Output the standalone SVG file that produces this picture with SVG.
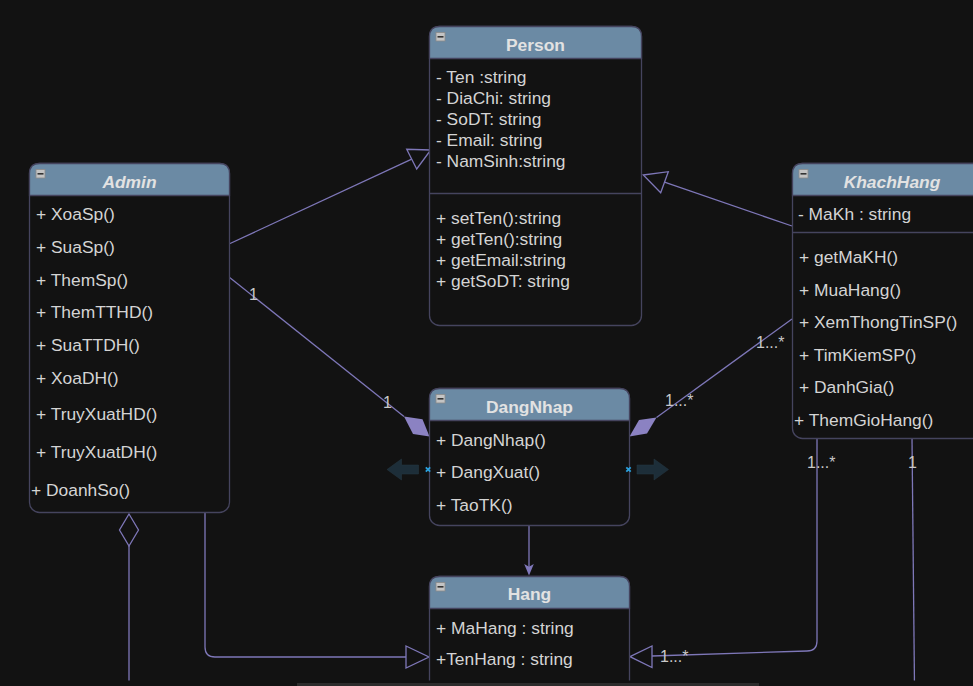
<svg xmlns="http://www.w3.org/2000/svg" width="973" height="686" viewBox="0 0 973 686">
<style>
text{font-family:"Liberation Sans",Arial,sans-serif;font-size:17.4px;fill:#d4d4d4}
.title{font-weight:bold;fill:#e2e2e2;text-anchor:middle}
.it{font-style:italic}
.box{fill:#121212;stroke:#45445e;stroke-width:1.3}
.hdr{fill:#6b8aa4;stroke:#45445e;stroke-width:1.3}
.div{stroke:#45445e;stroke-width:1.3}
.ic{fill:#c4c4c4;stroke:#8a8a8a;stroke-width:0.8}
.icm{stroke:#333;stroke-width:1.6}
.ln{fill:none;stroke:#7e77b8;stroke-width:1.3}
.hol{fill:#121212;stroke:#7e77b8;stroke-width:1.3}
.fil{fill:#8b82c2;stroke:none}
.lbl{font-size:16px;fill:#c8c8c8}
.blk{fill:#1d2e39;stroke:#26384380;stroke-width:1}
.mk{stroke:#2aa0dc;stroke-width:1.8}
</style>
<rect x="0" y="0" width="973" height="686" fill="#121212"/>

<g id="connectors">
  <!-- Admin -> Person generalization -->
  <line class="ln" x1="229" y1="244" x2="411.7" y2="159.2"/>
  <polygon class="hol" points="430.7,150 406.7,149.3 416.7,169"/>
  <!-- KhachHang -> Person generalization -->
  <line class="ln" x1="792" y1="226" x2="664.5" y2="182.2"/>
  <polygon class="hol" points="643.3,175 668.3,171.7 660.7,192.7"/>
  <!-- Admin -> DangNhap -->
  <line class="ln" x1="229" y1="277" x2="404" y2="416.5"/>
  <polygon class="fil" points="404,416.5 422.5,419.3 429.5,436.5 413,434"/>
  <text class="lbl" x="249" y="300">1</text>
  <text class="lbl" x="383" y="408">1</text>
  <!-- KhachHang -> DangNhap -->
  <line class="ln" x1="792" y1="319" x2="656.5" y2="417.5"/>
  <polygon class="fil" points="656.5,417.5 639,420 629.5,436.5 647,433.5"/>
  <text class="lbl" x="756" y="348">1...*</text>
  <text class="lbl" x="665" y="406">1...*</text>
  <!-- DangNhap -> Hang -->
  <line class="ln" x1="529" y1="526" x2="529" y2="568"/>
  <path class="fil" d="M529,575.5 L524.2,564 L529,566.8 L533.8,564 Z" style="fill:#8078bb"/>
  <!-- Admin -> Hang -->
  <path class="ln" d="M205,513 V647 Q205,657 215,657 H406"/>
  <polygon class="hol" points="406,646 429,657 406,668"/>
  <!-- Admin aggregation -->
  <polygon class="hol" points="129,514 138.5,530 129,546 119.5,530"/>
  <line class="ln" x1="129" y1="546" x2="129" y2="686"/>
  <!-- KhachHang -> Hang -->
  <path class="ln" d="M817,438 V641 Q817,651 807,651 L652,656"/>
  <polygon class="hol" points="630,656.7 652,646 652,667.5"/>
  <text class="lbl" x="807" y="468">1...*</text>
  <text class="lbl" x="660" y="662">1...*</text>
  <!-- KhachHang down -->
  <line class="ln" x1="912" y1="438" x2="914.5" y2="686"/>
  <text class="lbl" x="908" y="468">1</text>
</g>

<g id="Person">
  <rect class="box" x="429.5" y="26.5" width="212" height="299" rx="10"/>
  <path class="hdr" d="M429.5,58.5 V36.5 Q429.5,26.5 439.5,26.5 H631.5 Q641.5,26.5 641.5,36.5 V58.5 Z"/>
  <rect class="ic" x="436" y="32.5" width="9" height="8.5"/>
  <line class="icm" x1="437.5" y1="36.8" x2="443.5" y2="36.8"/>
  <text class="title" x="535.5" y="51">Person</text>
  <line class="div" x1="429.5" y1="193.5" x2="641.5" y2="193.5"/>
  <text x="436" y="83">- Ten :string</text>
  <text x="436" y="104">- DiaChi: string</text>
  <text x="436" y="125">- SoDT: string</text>
  <text x="436" y="146">- Email: string</text>
  <text x="436" y="167">- NamSinh:string</text>
  <text x="436" y="224">+ setTen():string</text>
  <text x="436" y="245">+ getTen():string</text>
  <text x="436" y="266">+ getEmail:string</text>
  <text x="436" y="287">+ getSoDT: string</text>
</g>

<g id="Admin">
  <rect class="box" x="29.5" y="163.5" width="200" height="349" rx="10"/>
  <path class="hdr" d="M29.5,195.5 V173.5 Q29.5,163.5 39.5,163.5 H219.5 Q229.5,163.5 229.5,173.5 V195.5 Z"/>
  <rect class="ic" x="36" y="169.5" width="9" height="8.5"/>
  <line class="icm" x1="37.5" y1="173.8" x2="43.5" y2="173.8"/>
  <text class="title it" x="129.5" y="188">Admin</text>
  <text x="36" y="220">+ XoaSp()</text>
  <text x="36" y="253">+ SuaSp()</text>
  <text x="36" y="286">+ ThemSp()</text>
  <text x="36" y="318">+ ThemTTHD()</text>
  <text x="36" y="351">+ SuaTTDH()</text>
  <text x="36" y="384">+ XoaDH()</text>
  <text x="36" y="420">+ TruyXuatHD()</text>
  <text x="36" y="458">+ TruyXuatDH()</text>
  <text x="31" y="496">+ DoanhSo()</text>
</g>

<g id="DangNhap">
  <rect class="box" x="429.5" y="388.5" width="200" height="137" rx="10"/>
  <path class="hdr" d="M429.5,420.5 V398.5 Q429.5,388.5 439.5,388.5 H619.5 Q629.5,388.5 629.5,398.5 V420.5 Z"/>
  <rect class="ic" x="436" y="394.5" width="9" height="8.5"/>
  <line class="icm" x1="437.5" y1="398.8" x2="443.5" y2="398.8"/>
  <text class="title" x="529.5" y="413">DangNhap</text>
  <text x="436" y="445.5">+ DangNhap()</text>
  <text x="436" y="478">+ DangXuat()</text>
  <text x="436" y="510.5">+ TaoTK()</text>
</g>

<g id="hover-arrows">
  <path class="blk" d="M387,469.5 L401.5,459 V465 H418.5 V474 H401.5 V480 Z"/>
  <path class="blk" d="M668.5,469.5 L654,459 V465 H637 V474 H654 V480 Z"/>
  <path class="mk" d="M425.8,467.3 L430.2,471.7 M430.2,467.3 L425.8,471.7"/>
  <path class="mk" d="M626.3,467.3 L630.7,471.7 M630.7,467.3 L626.3,471.7"/>
</g>

<g id="KhachHang">
  <rect class="box" x="792.5" y="163.5" width="200" height="275" rx="10"/>
  <path class="hdr" d="M792.5,195.5 V173.5 Q792.5,163.5 802.5,163.5 H982.5 Q992.5,163.5 992.5,173.5 V195.5 Z"/>
  <rect class="ic" x="799" y="169.5" width="9" height="8.5"/>
  <line class="icm" x1="800.5" y1="173.8" x2="806.5" y2="173.8"/>
  <text class="title it" x="892" y="188">KhachHang</text>
  <line class="div" x1="792.5" y1="232.5" x2="992.5" y2="232.5"/>
  <text x="798" y="220">- MaKh : string</text>
  <text x="799" y="263">+ getMaKH()</text>
  <text x="799" y="295.5">+ MuaHang()</text>
  <text x="799" y="328">+ XemThongTinSP()</text>
  <text x="799" y="360.5">+ TimKiemSP()</text>
  <text x="799" y="393">+ DanhGia()</text>
  <text x="794" y="425.5">+ ThemGioHang()</text>
</g>

<g id="Hang">
  <rect class="box" x="429.5" y="576.5" width="200" height="160" rx="10"/>
  <path class="hdr" d="M429.5,608.5 V586.5 Q429.5,576.5 439.5,576.5 H619.5 Q629.5,576.5 629.5,586.5 V608.5 Z"/>
  <rect class="ic" x="436" y="582.5" width="9" height="8.5"/>
  <line class="icm" x1="437.5" y1="586.8" x2="443.5" y2="586.8"/>
  <text class="title" x="529.5" y="600">Hang</text>
  <text x="436" y="633.5">+ MaHang : string</text>
  <text x="436" y="665">+TenHang : string</text>
</g>

<rect x="0" y="680.5" width="973" height="5.5" fill="#121212"/>
<rect x="297" y="683" width="462" height="3" fill="#2c2c2c"/>
</svg>
